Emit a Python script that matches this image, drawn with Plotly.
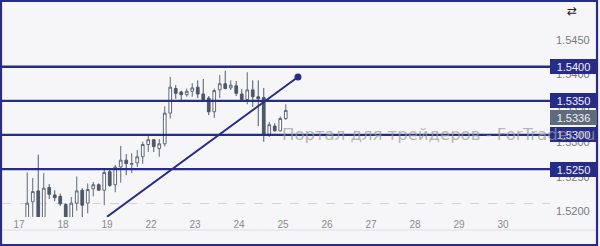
import plotly.graph_objects as go

# ---------------- data ----------------
day_labels = ["17", "18", "19", "22", "23", "24", "25", "26", "27", "28", "29", "30"]

# 3-hour bars, consecutive, starting at day "17", slot 1 (8 bars per day)
bar_open = [1.5172, 1.5202, 1.5218, 1.5172, 1.5223, 1.5212, 1.5210, 1.5198,
            1.5174, 1.5200, 1.5219, 1.5200, 1.5221, 1.5227, 1.5219, 1.5246,
            1.5227, 1.5253, 1.5263, 1.5257, 1.5259, 1.5268, 1.5286, 1.5293,
            1.5280, 1.5287, 1.5332, 1.5368, 1.5363, 1.5359, 1.5364, 1.5370,
            1.5360, 1.5354, 1.5334, 1.5366, 1.5375, 1.5369, 1.5372, 1.5360,
            1.5352, 1.5366, 1.5356, 1.5355, 1.5301, 1.5313, 1.5306, 1.5324]
bar_high = [1.5245, 1.5237, 1.5271, 1.5244, 1.5228, 1.5219, 1.5214, 1.5200,
            1.5209, 1.5239, 1.5222, 1.5229, 1.5231, 1.5229, 1.5249, 1.5251,
            1.5256, 1.5284, 1.5272, 1.5273, 1.5278, 1.5290, 1.5300, 1.5294,
            1.5294, 1.5342, 1.5385, 1.5373, 1.5365, 1.5368, 1.5376, 1.5380,
            1.5382, 1.5357, 1.5368, 1.5388, 1.5394, 1.5380, 1.5379, 1.5367,
            1.5392, 1.5380, 1.5380, 1.5369, 1.5319, 1.5317, 1.5327, 1.5345]
bar_low = [1.5166, 1.5175, 1.5165, 1.5168, 1.5206, 1.5203, 1.5196, 1.5168,
           1.5170, 1.5189, 1.5175, 1.5185, 1.5210, 1.5218, 1.5197, 1.5224,
           1.5216, 1.5230, 1.5241, 1.5244, 1.5253, 1.5258, 1.5275, 1.5275,
           1.5268, 1.5283, 1.5324, 1.5353, 1.5350, 1.5356, 1.5356, 1.5354,
           1.5351, 1.5329, 1.5325, 1.5354, 1.5367, 1.5366, 1.5357, 1.5351,
           1.5345, 1.5341, 1.5313, 1.5290, 1.5297, 1.5305, 1.5305, 1.5322]
bar_close = [1.5200, 1.5217, 1.5170, 1.5222, 1.5213, 1.5208, 1.5199, 1.5172,
             1.5200, 1.5218, 1.5197, 1.5220, 1.5227, 1.5219, 1.5245, 1.5226,
             1.5253, 1.5263, 1.5258, 1.5258, 1.5268, 1.5286, 1.5293, 1.5283,
             1.5287, 1.5332, 1.5370, 1.5361, 1.5359, 1.5364, 1.5369, 1.5360,
             1.5352, 1.5334, 1.5365, 1.5375, 1.5368, 1.5373, 1.5361, 1.5352,
             1.5366, 1.5356, 1.5353, 1.5301, 1.5315, 1.5306, 1.5324, 1.5336]

first_bar_slot = 1
bars_per_day = 8

level_prices = [1.5400, 1.5350, 1.5300, 1.5250]
axis_label_prices = [1.5450, 1.5400, 1.5350, 1.5300, 1.5250, 1.5200]
last_price = 1.5336

trend_x = [2.0, 6.34]          # in trading-day units
trend_y = [1.5180, 1.5385]

watermark = "Портал для трейдеров - ForTrader.ru"

# ---------------- styling ----------------
NAVY = "#272c88"
BG = "#f6f6f8"
CANDLE_LINE = "#5e6878"
CANDLE_DOWN = "#4d5769"

bar_x = [(first_bar_slot + i + 0.5) / bars_per_day for i in range(len(bar_open))]

fig = go.Figure()

fig.add_trace(go.Candlestick(
    x=bar_x, open=bar_open, high=bar_high, low=bar_low, close=bar_close,
    increasing=dict(line=dict(color=CANDLE_LINE, width=1), fillcolor="#ffffff"),
    decreasing=dict(line=dict(color=CANDLE_DOWN, width=1), fillcolor=CANDLE_DOWN),
    whiskerwidth=0, showlegend=False, hoverinfo="skip",
))

fig.add_trace(go.Scatter(
    x=trend_x, y=trend_y, mode="lines",
    line=dict(color=NAVY, width=2), showlegend=False, hoverinfo="skip",
))
fig.add_trace(go.Scatter(
    x=[trend_x[-1]], y=[trend_y[-1]], mode="markers",
    marker=dict(color=NAVY, size=7), showlegend=False, hoverinfo="skip",
    cliponaxis=False,
))

shapes = []
for p in level_prices:
    shapes.append(dict(type="line", xref="paper", yref="y", x0=-0.002, x1=1.0,
                       y0=p, y1=p, line=dict(color=NAVY, width=2.3), layer="above"))
# bottom light separator
shapes.append(dict(type="line", xref="paper", yref="paper", x0=-0.002, x1=1.0858,
                   y0=-0.0605, y1=-0.0605, line=dict(color="#dedee2", width=1)))
# outer frame
shapes.append(dict(type="rect", xref="paper", yref="paper", x0=-0.0018, x1=1.0858,
                   y0=-0.1302, y1=1.0047, line=dict(color=NAVY, width=2.2),
                   fillcolor="rgba(0,0,0,0)"))

annotations = []
for p in axis_label_prices:
    annotations.append(dict(xref="paper", yref="y", x=1.0425, y=p, yshift=-7.5,
                            text=f"{p:.4f}", showarrow=False, xanchor="center",
                            font=dict(family="Liberation Sans", size=11, color="#7a7a7a")))
label_boxes = [(p, NAVY, 0) for p in level_prices] + [(last_price, "#5f6b7b", -7.5)]
for p, col, ys in label_boxes:
    annotations.append(dict(xref="paper", yref="y", x=1.0433, y=p, yshift=ys,
                            text=f"{p:.4f}", showarrow=False, xanchor="center",
                            width=45, height=13, borderpad=1, bgcolor=col,
                            bordercolor=col, borderwidth=0,
                            font=dict(family="Liberation Sans", size=11, color="#f2f2f6")))
annotations.append(dict(xref="paper", yref="paper", x=0.797, y=0.386, text=watermark,
                        showarrow=False, xanchor="center", yanchor="middle", opacity=0.7,
                        font=dict(family="DejaVu Sans", size=16.5, color="#9c9c9c")))
annotations.append(dict(xref="paper", yref="paper", x=1.0396, y=1.0, text="⇄",
                        showarrow=False, xanchor="center", yanchor="top",
                        font=dict(family="DejaVu Sans", size=12, color="#222222")))

fig.update_layout(
    width=600, height=246,
    margin=dict(l=2, r=50, t=2, b=29),
    paper_bgcolor=BG, plot_bgcolor=BG,
    shapes=shapes, annotations=annotations,
    xaxis=dict(range=[-0.386, 12.068], tickvals=list(range(len(day_labels))),
               ticktext=day_labels, showgrid=False, zeroline=False, showline=False,
               ticks="", rangeslider=dict(visible=False),
               tickfont=dict(family="Liberation Sans", size=10, color="#8a8a8a")),
    yaxis=dict(range=[1.51797, 1.54949], side="right", tickvals=[1.5200],
               showticklabels=False, showgrid=True, gridcolor="#d4d4d8",
               griddash="dash", gridwidth=1, zeroline=False, showline=False, ticks=""),
    showlegend=False,
)

fig.write_html("out.html")
